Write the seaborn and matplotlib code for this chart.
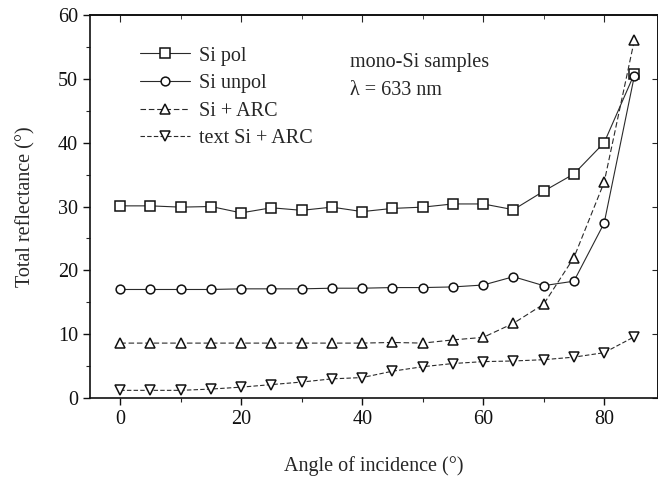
import numpy as np
import pandas as pd
import matplotlib
matplotlib.use("Agg")
import matplotlib.pyplot as plt
from matplotlib.ticker import MultipleLocator
import seaborn as sns

# Angle of incidence (degrees)
angles = [0, 5, 10, 15, 20, 25, 30, 35, 40, 45, 50, 55, 60, 65, 70, 75, 80, 85]

# Total reflectance for each sample / polarisation
si_pol = [30.1, 30.1, 29.9, 30.0, 29.0, 29.8, 29.4, 29.9, 29.2, 29.7, 29.9, 30.4, 30.4, 29.5, 32.4, 35.1, 40.0, 50.8]
si_unpol = [17.0, 17.0, 17.0, 17.0, 17.1, 17.1, 17.1, 17.2, 17.2, 17.3, 17.3, 17.4, 17.7, 19.0, 17.6, 18.3, 27.4, 50.5]
si_arc = [8.6, 8.6, 8.6, 8.6, 8.6, 8.6, 8.6, 8.6, 8.6, 8.7, 8.6, 9.1, 9.5, 11.7, 14.7, 22.0, 33.8, 56.1]
text_si_arc = [1.2, 1.2, 1.2, 1.4, 1.7, 2.1, 2.5, 3.0, 3.2, 4.2, 4.9, 5.4, 5.7, 5.8, 6.0, 6.4, 7.1, 9.6]

series_names = ["Si pol", "Si unpol", "Si + ARC", "text Si + ARC"]
series_values = [si_pol, si_unpol, si_arc, text_si_arc]
series_markers = ["s", "o", "^", "v"]
series_dashes = [(None, None), (None, None), (5, 2.5), (4, 2)]

x_ticks = [0, 20, 40, 60, 80]
y_ticks = [0, 10, 20, 30, 40, 50, 60]

df = pd.DataFrame({
    "angle": np.tile(angles, len(series_names)),
    "reflectance": np.concatenate(series_values),
    "series": np.repeat(series_names, len(angles)),
})

sns.set_style("ticks")
plt.rcParams["font.family"] = ["Liberation Serif", "DejaVu Serif"]
plt.rcParams["mathtext.fontset"] = "stix"

FS = 14.5

fig = plt.figure(figsize=(6.58, 4.8), dpi=100)
ax = fig.add_axes([90 / 658, 82 / 480, 568 / 658, 383 / 480])

for name, marker, dash in zip(series_names, series_markers, series_dashes):
    sub = df[df["series"] == name]
    sns.lineplot(data=sub, x="angle", y="reflectance", ax=ax, label=name,
                 color="#2a2a2a", linewidth=0.8, marker=marker,
                 markersize=6.8 if marker != "o" else 6.3,
                 markerfacecolor="white", markeredgecolor="#111111",
                 markeredgewidth=1.1)
    if dash[0] is not None:
        ax.lines[-1].set_dashes(dash)

ax.set_xlim(-5, 88.9)
ax.set_ylim(0, 60)
ax.set_xticks(x_ticks)
ax.set_yticks(y_ticks)
ax.xaxis.set_minor_locator(MultipleLocator(10))
ax.yaxis.set_minor_locator(MultipleLocator(5))
ax.tick_params(axis="both", which="major", direction="out", length=5, width=1,
               labelsize=FS, colors="#111111")
ax.tick_params(axis="both", which="minor", direction="out", length=3, width=0.8)

# inward ticks on the top and right frame
top = ax.secondary_xaxis("top")
top.set_xticks(x_ticks)
top.xaxis.set_minor_locator(MultipleLocator(10))
top.tick_params(which="major", direction="in", length=5, labeltop=False)
top.tick_params(which="minor", direction="in", length=3, labeltop=False)
right = ax.secondary_yaxis("right")
right.set_yticks(y_ticks)
right.tick_params(which="major", direction="in", length=4, labelright=False)

for sp in list(ax.spines.values()) + [top.spines["top"], right.spines["right"]]:
    sp.set_linewidth(1.2)
    sp.set_color("#111111")

ax.set_xlabel("Angle of incidence (°)", fontsize=FS, labelpad=20)
ax.set_ylabel("Total reflectance (°)", fontsize=FS, labelpad=16)

ax.text(0.458, 0.877, "mono-Si samples", transform=ax.transAxes, fontsize=FS,
        va="center")
ax.text(0.458, 0.804, "λ = 633 nm", transform=ax.transAxes, fontsize=FS,
        va="center")

ax.legend(loc="upper left", bbox_to_anchor=(0.088, 0.918), frameon=False,
          fontsize=FS, handlelength=2.5, handletextpad=0.45, labelspacing=0.42,
          borderaxespad=0, borderpad=0)

fig.savefig("out.png", dpi=100)
